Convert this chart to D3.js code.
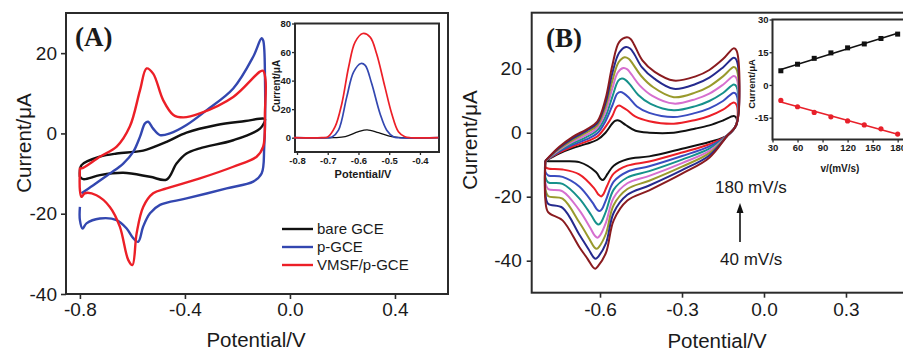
<!DOCTYPE html>
<html>
<head>
<meta charset="utf-8">
<script src="https://cdn.jsdelivr.net/npm/d3@7"></script>
<style>
body { margin: 0; background: #fff; }
svg { display: block; font-family: "Liberation Sans", Arial, sans-serif; }
.tick text { fill: #1a1a1a; }
.tick line { stroke: #2b2b2b; }
</style>
</head>
<body>
<svg id="chart" width="903" height="352"></svg>
<script>

// ---- panel A : CV of the three electrodes, [potential V, current uA]
var cvBare = [[-0.80,-10.8],[-0.794,-7.9],[-0.724,-5.8],[-0.66,-5.0],[-0.597,-4.6],[-0.559,-4.3],[-0.47,-2.1],
  [-0.394,0.2],[-0.279,2.1],[-0.17,3.1],[-0.10,3.7],[-0.095,3.5],[-0.114,1.2],[-0.216,-1.7],[-0.343,-3.7],
  [-0.394,-5.0],[-0.432,-7.5],[-0.47,-11.5],[-0.533,-10.8],[-0.635,-9.8],[-0.724,-10.4],[-0.787,-11.4],[-0.80,-10.8]];

var cvPGCE = [[-0.794,-14.9],[-0.749,-12.9],[-0.686,-10.0],[-0.635,-7.5],[-0.597,-4.6],[-0.571,-0.8],[-0.552,2.5],
  [-0.54,2.9],[-0.521,1.2],[-0.495,-0.4],[-0.457,0.0],[-0.394,2.1],[-0.317,5.8],[-0.216,11.2],[-0.14,19.1],
  [-0.108,23.7],[-0.102,23.2],[-0.095,13.3],[-0.098,-3.3],[-0.108,-10.0],[-0.14,-12.0],[-0.241,-13.7],
  [-0.394,-16.2],[-0.495,-17.8],[-0.533,-19.9],[-0.559,-23.2],[-0.578,-27.0],[-0.597,-26.1],[-0.622,-23.7],
  [-0.66,-21.6],[-0.724,-21.2],[-0.775,-22.4],[-0.79,-23.7],[-0.80,-21.6],[-0.80,-18.3]];

var cvVMSF = [[-0.80,-8.5],[-0.794,-8.7],[-0.724,-5.8],[-0.66,-3.3],[-0.61,1.7],[-0.571,10.8],[-0.546,16.2],
  [-0.521,14.9],[-0.483,8.3],[-0.444,4.6],[-0.406,4.0],[-0.343,5.0],[-0.216,9.1],[-0.114,15.4],[-0.102,15.6],
  [-0.093,13.3],[-0.095,5.8],[-0.102,-3.3],[-0.127,-5.8],[-0.216,-8.3],[-0.343,-11.2],[-0.47,-13.7],[-0.521,-14.9],
  [-0.559,-18.3],[-0.584,-24.9],[-0.60,-32.8],[-0.616,-31.5],[-0.648,-23.2],[-0.686,-18.3],[-0.737,-15.4],
  [-0.781,-14.9],[-0.794,-15.8],[-0.80,-14.1],[-0.80,-8.5]];

var legendNames = ["bare GCE", "p-GCE", "VMSF/p-GCE"];

// inset A : DPV
var dpvBare = [[-0.81,0],[-0.68,0],[-0.643,0.7],[-0.60,4.2],[-0.572,5.5],[-0.535,3.5],[-0.492,0.7],[-0.46,0],[-0.34,0]];
var dpvPGCE = [[-0.81,0],[-0.70,0],[-0.686,0.5],[-0.665,5.3],[-0.638,28.6],[-0.616,46],[-0.592,52],[-0.578,50.7],
  [-0.557,37.9],[-0.530,17],[-0.508,5.3],[-0.486,0.7],[-0.47,0],[-0.34,0]];
var dpvVMSF = [[-0.81,0],[-0.72,0],[-0.70,0.5],[-0.676,7.7],[-0.654,24],[-0.632,49.5],[-0.611,67],[-0.586,73],
  [-0.562,70.5],[-0.541,58.8],[-0.514,35.6],[-0.492,17],[-0.470,4.2],[-0.449,0.7],[-0.43,0],[-0.34,0]];

// ---- panel B : CV at scan rates 40..180 mV/s
var scanRates = [40, 60, 80, 100, 120, 140, 160, 180];

var cv40 = [[-0.80,-8.8],[-0.75,-6.5],[-0.70,-4.8],[-0.65,-3.5],[-0.61,-2.2],[-0.58,0.0],[-0.556,2.8],[-0.545,3.7],
  [-0.536,3.9],[-0.526,3.6],[-0.506,2.4],[-0.470,0.6],[-0.42,0.0],[-0.33,0.0],[-0.25,1.3],[-0.20,2.3],[-0.15,3.8],
  [-0.11,5.2],[-0.10,4.4],[-0.101,2.5],[-0.133,-0.8],[-0.20,-2.9],[-0.30,-5.0],[-0.42,-7.4],[-0.50,-8.3],
  [-0.55,-10.3],[-0.572,-12.8],[-0.583,-14.3],[-0.590,-14.8],[-0.598,-14.4],[-0.615,-12.3],[-0.676,-9.2],
  [-0.737,-8.9],[-0.79,-8.9],[-0.80,-8.8]];
var cv60 = [[-0.80,-8.8],[-0.75,-6.2],[-0.70,-4.3],[-0.65,-2.8],[-0.61,-1.2],[-0.58,1.8],[-0.555,5.2],[-0.540,8.0],
  [-0.530,8.5],[-0.520,8.1],[-0.50,7.0],[-0.47,5.0],[-0.42,3.6],[-0.33,2.8],[-0.25,4.0],[-0.20,5.2],[-0.15,7.2],
  [-0.11,9.4],[-0.10,8.6],[-0.101,2.5],[-0.133,-0.8],[-0.20,-3.6],[-0.30,-6.2],[-0.42,-9.0],[-0.50,-10.3],
  [-0.55,-12.8],[-0.575,-16.8],[-0.588,-19.3],[-0.596,-19.9],[-0.605,-19.4],[-0.622,-17.3],[-0.676,-13.0],
  [-0.737,-11.5],[-0.79,-11.2],[-0.80,-10.7],[-0.80,-8.8]];
var cv80 = [[-0.80,-8.8],[-0.75,-5.9],[-0.70,-3.8],[-0.65,-2.1],[-0.61,-0.2],[-0.58,3.6],[-0.555,8.5],[-0.537,12.2],
  [-0.525,12.7],[-0.513,12.3],[-0.495,11.0],[-0.465,8.2],[-0.42,6.2],[-0.33,4.9],[-0.25,6.2],[-0.20,7.6],[-0.15,9.9],
  [-0.11,12.5],[-0.10,11.7],[-0.101,2.5],[-0.133,-0.8],[-0.20,-4.3],[-0.30,-7.3],[-0.42,-10.5],[-0.50,-12.2],
  [-0.55,-15.3],[-0.578,-21.0],[-0.593,-23.9],[-0.602,-24.5],[-0.611,-24.0],[-0.628,-21.8],[-0.676,-16.8],
  [-0.737,-13.8],[-0.79,-13.3],[-0.80,-12.2],[-0.80,-8.8]];
var cv100 = [[-0.80,-8.8],[-0.75,-5.6],[-0.70,-3.3],[-0.65,-1.4],[-0.61,0.8],[-0.58,5.0],[-0.555,11.2],[-0.533,16.3],
  [-0.520,16.9],[-0.507,16.5],[-0.49,15.0],[-0.46,11.8],[-0.415,9.0],[-0.33,7.0],[-0.25,8.3],[-0.20,9.9],[-0.15,12.4],
  [-0.11,15.1],[-0.10,14.3],[-0.101,2.5],[-0.133,-0.8],[-0.20,-5.0],[-0.30,-8.4],[-0.42,-12.0],[-0.50,-14.0],
  [-0.55,-17.8],[-0.578,-24.5],[-0.596,-28.0],[-0.605,-28.7],[-0.614,-28.2],[-0.632,-25.8],[-0.676,-20.5],
  [-0.737,-16.0],[-0.79,-15.5],[-0.80,-13.9],[-0.80,-8.8]];
var cv120 = [[-0.80,-8.8],[-0.75,-5.4],[-0.70,-2.8],[-0.65,-0.7],[-0.61,1.6],[-0.58,6.5],[-0.555,13.8],[-0.535,18.8],
  [-0.515,20.2],[-0.50,19.8],[-0.485,18.2],[-0.455,14.8],[-0.41,11.6],[-0.33,9.1],[-0.25,10.5],[-0.20,12.2],
  [-0.15,15.0],[-0.11,17.7],[-0.10,16.9],[-0.101,2.5],[-0.133,-0.8],[-0.20,-5.7],[-0.30,-9.5],[-0.42,-13.5],
  [-0.50,-15.8],[-0.55,-20.3],[-0.578,-28.0],[-0.600,-32.1],[-0.609,-32.8],[-0.618,-32.3],[-0.636,-29.7],
  [-0.676,-24.2],[-0.737,-18.3],[-0.79,-17.6],[-0.80,-15.6],[-0.80,-8.8]];
var cv140 = [[-0.80,-8.8],[-0.75,-5.1],[-0.70,-2.3],[-0.65,0.0],[-0.61,2.3],[-0.58,8.0],[-0.555,16.2],[-0.532,22.0],
  [-0.510,23.6],[-0.495,23.1],[-0.48,21.5],[-0.45,17.8],[-0.405,14.2],[-0.33,11.1],[-0.25,12.6],[-0.20,14.5],
  [-0.15,17.6],[-0.11,20.5],[-0.10,19.7],[-0.101,2.5],[-0.133,-0.8],[-0.20,-6.4],[-0.30,-10.6],[-0.42,-15.0],
  [-0.50,-17.6],[-0.55,-22.6],[-0.578,-31.5],[-0.603,-35.6],[-0.612,-36.3],[-0.621,-35.8],[-0.639,-33.2],
  [-0.676,-28.0],[-0.737,-20.6],[-0.79,-19.8],[-0.80,-17.3],[-0.80,-8.8]];
var cv160 = [[-0.80,-8.8],[-0.75,-4.8],[-0.70,-1.8],[-0.65,0.6],[-0.61,3.0],[-0.58,9.3],[-0.555,18.6],[-0.53,25.0],
  [-0.505,26.8],[-0.49,26.3],[-0.475,24.6],[-0.447,20.5],[-0.40,16.8],[-0.33,13.7],[-0.25,15.2],[-0.20,17.2],
  [-0.15,20.4],[-0.11,23.4],[-0.10,22.6],[-0.101,2.5],[-0.133,-0.8],[-0.20,-7.1],[-0.30,-11.7],[-0.42,-16.5],
  [-0.50,-19.4],[-0.55,-25.0],[-0.578,-34.5],[-0.606,-38.7],[-0.615,-39.4],[-0.624,-38.9],[-0.642,-36.4],
  [-0.676,-31.8],[-0.737,-23.5],[-0.79,-22.2],[-0.80,-19.0],[-0.80,-8.8]];
var cv180 = [[-0.80,-8.8],[-0.75,-4.5],[-0.70,-1.3],[-0.65,1.0],[-0.61,3.5],[-0.58,10.5],[-0.555,21.0],[-0.53,28.3],
  [-0.502,29.8],[-0.488,29.3],[-0.475,27.5],[-0.445,22.6],[-0.40,19.0],[-0.33,16.3],[-0.25,17.6],[-0.20,19.6],
  [-0.15,23.0],[-0.11,26.4],[-0.10,25.6],[-0.101,2.5],[-0.133,-0.8],[-0.20,-7.8],[-0.30,-12.8],[-0.42,-18.0],
  [-0.50,-21.2],[-0.55,-27.4],[-0.578,-37.5],[-0.608,-41.8],[-0.617,-42.5],[-0.626,-42.0],[-0.645,-39.5],
  [-0.676,-35.7],[-0.737,-27.4],[-0.79,-24.8],[-0.80,-21.0],[-0.80,-8.8]];

// inset B : peak currents vs scan rate
var anodicPeak = [6.5, 9.5, 12.2, 14.7, 17.0, 18.8, 21.3, 23.3];
var cathodicPeak = [-7.1, -10.0, -12.6, -14.6, -16.5, -18.3, -20.1, -22.5];

// tick values
var ticksAx = [-0.8, -0.4, 0.0, 0.4], ticksAy = [20, 0, -20, -40];
var ticksBx = [-0.6, -0.3, 0.0, 0.3], ticksBy = [20, 0, -20, -40];
var ticksIAx = [-0.8, -0.7, -0.6, -0.5, -0.4], ticksIAy = [0, 20, 40, 60, 80];
var ticksIBx = [30, 60, 90, 120, 150, 180], ticksIBy = [30, 15, 0, -15];

// styles
var colA = ["#111111", "#3347b0", "#ec1f27"];
var colB = ["#111111", "#ec1f27", "#3a4cc0", "#16918b", "#d66fcf", "#999a2c", "#252a8e", "#8a1b1f"];
var ink = "#2b2b2b";

var svg = d3.select("#chart");

function fmt1(d) { return d.toFixed(1); }
function fmt0(d) { return String(d); }

function frame(g, x, y) {
  g.append("rect")
    .attr("x", x.range()[0]).attr("y", y.range()[1])
    .attr("width", x.range()[1] - x.range()[0])
    .attr("height", y.range()[0] - y.range()[1])
    .attr("fill", "#fff").attr("stroke", ink).attr("stroke-width", 2);
}

function axes(g, x, y, xt, yt, xf, yf, size, tick, pad, bold) {
  var ax = g.append("g")
    .attr("transform", "translate(0," + y.range()[0] + ")")
    .call(d3.axisBottom(x).tickValues(xt).tickFormat(xf).tickSize(tick).tickPadding(pad));
  var ay = g.append("g")
    .attr("transform", "translate(" + x.range()[0] + ",0)")
    .call(d3.axisLeft(y).tickValues(yt).tickFormat(yf).tickSize(tick).tickPadding(bold ? 1 : pad));
  [ax, ay].forEach(function(a) {
    a.select(".domain").remove();
    a.selectAll("line").attr("stroke-width", bold ? 1.3 : 1.6);
    a.selectAll("text").style("font-size", size + "px").style("font-weight", bold ? "bold" : "normal")
      .attr("fill", "#1a1a1a");
  });
}

var smooth = d3.curveCatmullRom.alpha(0.5);

// ================= panel A
var xA = d3.scaleLinear().domain([-0.853, 0.602]).range([66, 448]);
var yA = d3.scaleLinear().domain([-40, 30]).range([294, 13]);
var gA = svg.append("g");
frame(gA, xA, yA);
axes(gA, xA, yA, ticksAx, ticksAy, fmt1, fmt0, 19, 5, 4, false);

var lineA = d3.line().x(function(d) { return xA(d[0]); }).y(function(d) { return yA(d[1]); }).curve(smooth);
[cvBare, cvPGCE, cvVMSF].forEach(function(s, i) {
  gA.append("path").attr("d", lineA(s)).attr("fill", "none")
    .attr("stroke", colA[i]).attr("stroke-width", 2.4).attr("stroke-linejoin", "round");
});

gA.append("text").attr("x", 75).attr("y", 46)
  .style("font-family", "'Liberation Serif', 'Times New Roman', serif")
  .style("font-size", "27px").style("font-weight", "bold").attr("fill", "#1a1a1a").text("(A)");

gA.append("text").attr("transform", "translate(31,143) rotate(-90)")
  .attr("text-anchor", "middle").style("font-size", "20.5px").attr("fill", "#1a1a1a").text("Current/μA");
gA.append("text").attr("x", 256).attr("y", 347)
  .attr("text-anchor", "middle").style("font-size", "20.5px").attr("fill", "#1a1a1a").text("Potential/V");

var leg = gA.selectAll(".leg").data(legendNames).enter().append("g")
  .attr("transform", function(d, i) { return "translate(282," + (229 + i * 18) + ")"; });
leg.append("line").attr("x1", 0).attr("x2", 31)
  .attr("stroke", function(d, i) { return colA[i]; }).attr("stroke-width", 2.4);
leg.append("text").attr("x", 35).attr("dy", "0.36em").style("font-size", "15px")
  .attr("fill", "#1a1a1a").text(function(d) { return d; });

// inset A
var xIA = d3.scaleLinear().domain([-0.8065, -0.338]).range([295, 439]);
var yIA = d3.scaleLinear().domain([-10, 80]).range([152, 23.5]);
var gIA = svg.append("g");
frame(gIA, xIA, yIA);
axes(gIA, xIA, yIA, ticksIAx, ticksIAy, fmt1, fmt0, 9.5, 3, 2, true);
var lineIA = d3.line().x(function(d) { return xIA(d[0]); }).y(function(d) { return yIA(d[1]); }).curve(smooth);
[dpvBare, dpvPGCE, dpvVMSF].forEach(function(s, i) {
  gIA.append("path").attr("d", lineIA(s)).attr("fill", "none")
    .attr("stroke", colA[i]).attr("stroke-width", i ? 1.7 : 1.3);
});
gIA.append("text").attr("transform", "translate(280,86) rotate(-90)")
  .attr("text-anchor", "middle").style("font-size", "10px").style("font-weight", "bold")
  .attr("fill", "#1a1a1a").text("Current/μA");
gIA.append("text").attr("x", 363).attr("y", 178)
  .attr("text-anchor", "middle").style("font-size", "11px").style("font-weight", "bold")
  .attr("fill", "#1a1a1a").text("Potential/V");

// ================= panel B
var xB = d3.scaleLinear().domain([-0.85, 0.55]).range([531.7, 914.3]);
var yB = d3.scaleLinear().domain([-50, 37.5]).range([292.7, 12.7]);
var gB = svg.append("g");
frame(gB, xB, yB);
axes(gB, xB, yB, ticksBx, ticksBy, fmt1, fmt0, 19, 5, 5, false);

var lineB = d3.line().x(function(d) { return xB(d[0]); }).y(function(d) { return yB(d[1]); }).curve(smooth);
[cv40, cv60, cv80, cv100, cv120, cv140, cv160, cv180].forEach(function(s, i) {
  gB.append("path").attr("d", lineB(s)).attr("fill", "none")
    .attr("stroke", colB[i]).attr("stroke-width", 2).attr("stroke-linejoin", "round");
});

gB.append("text").attr("x", 546).attr("y", 47)
  .style("font-family", "'Liberation Serif', 'Times New Roman', serif")
  .style("font-size", "27px").style("font-weight", "bold").attr("fill", "#1a1a1a").text("(B)");

gB.append("text").attr("transform", "translate(477,140) rotate(-90)")
  .attr("text-anchor", "middle").style("font-size", "20.5px").attr("fill", "#1a1a1a").text("Current/μA");
gB.append("text").attr("x", 717).attr("y", 348)
  .attr("text-anchor", "middle").style("font-size", "20.5px").attr("fill", "#1a1a1a").text("Potential/V");

gB.append("text").attr("x", 715).attr("y", 193).style("font-size", "17px")
  .attr("fill", "#1a1a1a").text(scanRates[scanRates.length - 1] + " mV/s");
gB.append("text").attr("x", 720).attr("y", 265).style("font-size", "17px")
  .attr("fill", "#1a1a1a").text(scanRates[0] + " mV/s");
gB.append("line").attr("x1", 740).attr("x2", 740).attr("y1", 242).attr("y2", 211)
  .attr("stroke", "#111").attr("stroke-width", 1.6);
gB.append("path").attr("d", "M740,203 L736.5,213 L743.5,213 Z").attr("fill", "#111");

// inset B
var xIB = d3.scaleLinear().domain([30, 190]).range([772.5, 906]);
var yIB = d3.scaleLinear().domain([-25, 30]).range([139.5, 19.5]);
var gIB = svg.append("g");
frame(gIB, xIB, yIB);
axes(gIB, xIB, yIB, ticksIBx, ticksIBy, fmt0, fmt0, 9.5, 3, 2, true);

function fit(xs, ys) {
  var mx = d3.mean(xs), my = d3.mean(ys);
  var b = d3.sum(xs, function(v, i) { return (v - mx) * (ys[i] - my); }) /
          d3.sum(xs, function(v) { return (v - mx) * (v - mx); });
  return function(v) { return my + b * (v - mx); };
}
[anodicPeak, cathodicPeak].forEach(function(vals, k) {
  var f = fit(scanRates, vals);
  var c = k ? "#e8202a" : "#111111";
  var ends = d3.extent(scanRates);
  gIB.append("line")
    .attr("x1", xIB(ends[0])).attr("y1", yIB(f(ends[0])))
    .attr("x2", xIB(ends[1])).attr("y2", yIB(f(ends[1])))
    .attr("stroke", c).attr("stroke-width", 1.6);
  var pts = gIB.selectAll(".p" + k).data(vals).enter();
  if (k === 0) {
    pts.append("rect")
      .attr("x", function(d, i) { return xIB(scanRates[i]) - 2.5; })
      .attr("y", function(d) { return yIB(d) - 2.5; })
      .attr("width", 5).attr("height", 5).attr("fill", c);
  } else {
    pts.append("circle")
      .attr("cx", function(d, i) { return xIB(scanRates[i]); })
      .attr("cy", function(d) { return yIB(d); })
      .attr("r", 2.6).attr("fill", c);
  }
});
gIB.append("text").attr("transform", "translate(755,84) rotate(-90)")
  .attr("text-anchor", "middle").style("font-size", "9.5px").style("font-weight", "bold")
  .attr("fill", "#1a1a1a").text("Current/μA");
gIB.append("text").attr("x", 840).attr("y", 172)
  .attr("text-anchor", "middle").style("font-size", "10px").style("font-weight", "bold")
  .attr("fill", "#1a1a1a").text("v/(mV/s)");

</script>
</body>
</html>
